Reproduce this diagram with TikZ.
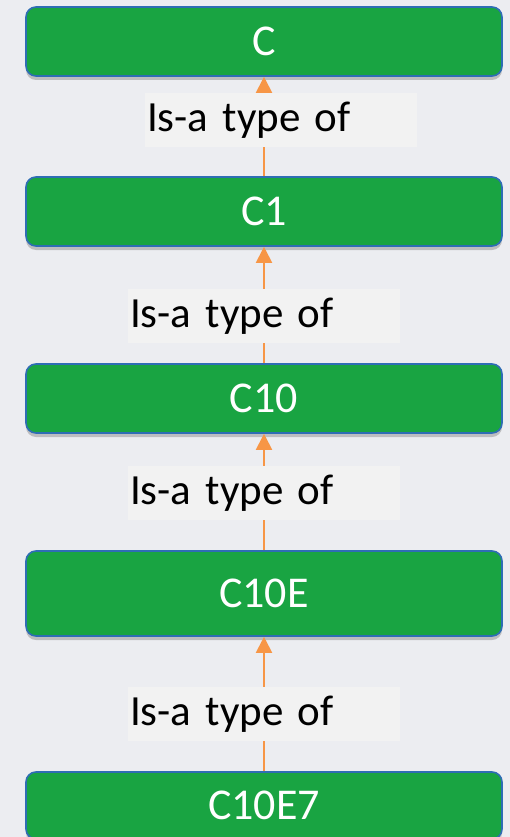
\documentclass[tikz,border=0pt]{standalone}
\usepackage{fontspec}
\setmainfont{Carlito}
\usetikzlibrary{shadows,arrows.meta}
\definecolor{bgc}{HTML}{ECEDF1}
\definecolor{boxgreen}{HTML}{19A442}
\definecolor{boxborder}{HTML}{2E6DB4}
\definecolor{arrorange}{HTML}{F79646}
\definecolor{labelbg}{HTML}{F2F2F2}
\tikzset{
  classbox/.style={draw=boxborder, line width=1.6pt, fill=boxgreen, rounded corners=10pt,
    minimum width=476pt, text=white, font=\fontsize{44}{50}\selectfont,
    drop shadow={shadow xshift=0pt, shadow yshift=-4pt, opacity=0.35, fill=black!60}},
  isalabel/.style={fill=labelbg, minimum width=272pt, minimum height=54pt,
    text width=268pt, inner sep=2pt, align=left, font=\fontsize{43}{50}\selectfont, text=black},
  isaarrow/.style={draw=arrorange, line width=2pt, -{Triangle[width=16pt,length=16pt]}}
}
\begin{document}
\begin{tikzpicture}[x=1pt,y=-1pt]
\fill[bgc] (0,0) rectangle (510,837);
\useasboundingbox (0,0) rectangle (510,837);
\node[classbox, minimum height=69pt] (c) at (264,41.5) {C};
\node[classbox, minimum height=69pt] (c1) at (264,211.5) {C1};
\node[classbox, minimum height=69pt] (c10) at (264,398.5) {C10};
\node[classbox, minimum height=85pt] (c10e) at (264,593.5) {C10E};
\node[classbox, minimum height=67pt] (c10e7) at (264,805.5) {C10E7};
\draw[isaarrow] (c1.north) -- (c.south);
\draw[isaarrow] (c10.north) -- (c1.south);
\draw[isaarrow] (c10e.north) -- (c10.south);
\draw[isaarrow] (c10e7.north) -- (c10e.south);
\node[isalabel] (l1) at (281,120) {Is-a type of};
\node[isalabel] (l2) at (264,316) {Is-a type of};
\node[isalabel] (l3) at (264,493) {Is-a type of};
\node[isalabel] (l4) at (264,714) {Is-a type of};
\end{tikzpicture}
\end{document}
